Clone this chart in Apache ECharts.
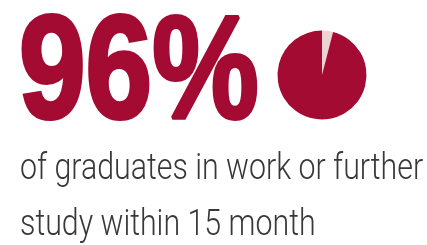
<!DOCTYPE html>
<html>
<head>
<meta charset="utf-8">
<script src="https://cdn.jsdelivr.net/npm/echarts@6/dist/echarts.min.js"></script>
<style>
  html, body { margin: 0; padding: 0; background: #fff; }
  #chart { width: 427px; height: 245px; }
</style>
</head>
<body>
<div id="chart"></div>
<script>
// headline figure and the pie behind it
var headline = '96%';
var sliceNames = ['Other', 'In work or further study'];
var sliceValues = [4, 96];
var sliceColors = ['#EDD3D1', '#A30B32'];
// caption lines under the figure
var captionLines = ['of graduates in work or further', 'study within 15 month'];

var myChart = echarts.init(document.getElementById('chart'));

var pieData = [];
for (var i = 0; i < sliceValues.length; i++) {
    pieData.push({
        name: sliceNames[i],
        value: sliceValues[i],
        itemStyle: { color: sliceColors[i] }
    });
}

var option = {
    backgroundColor: '#ffffff',
    animation: false,
    graphic: [
        {
            type: 'text',
            x: 19,
            y: 5,
            scaleX: 0.82,
            style: {
                text: headline,
                font: 'bold 146px "Liberation Sans", Arial, sans-serif',
                fill: '#A30B32',
                stroke: '#A30B32',
                lineWidth: 4,
                verticalAlign: 'top'
            }
        },
        {
            type: 'text',
            x: 20,
            y: 151,
            scaleX: 0.82,
            style: {
                text: captionLines[0],
                font: '300 37px Roboto, sans-serif',
                fill: '#383838',
                verticalAlign: 'top'
            }
        },
        {
            type: 'text',
            x: 20,
            y: 207,
            scaleX: 0.82,
            style: {
                text: captionLines[1],
                font: '300 37px Roboto, sans-serif',
                fill: '#383838',
                verticalAlign: 'top'
            }
        }
    ],
    series: [{
        type: 'pie',
        center: [322, 75],
        radius: 44.5,
        startAngle: 90,
        clockwise: true,
        label: { show: false },
        labelLine: { show: false },
        emphasis: { disabled: true },
        itemStyle: { borderWidth: 0 },
        data: pieData
    }]
};

myChart.setOption(option);
window.addEventListener('resize', myChart.resize);
</script>
</body>
</html>
